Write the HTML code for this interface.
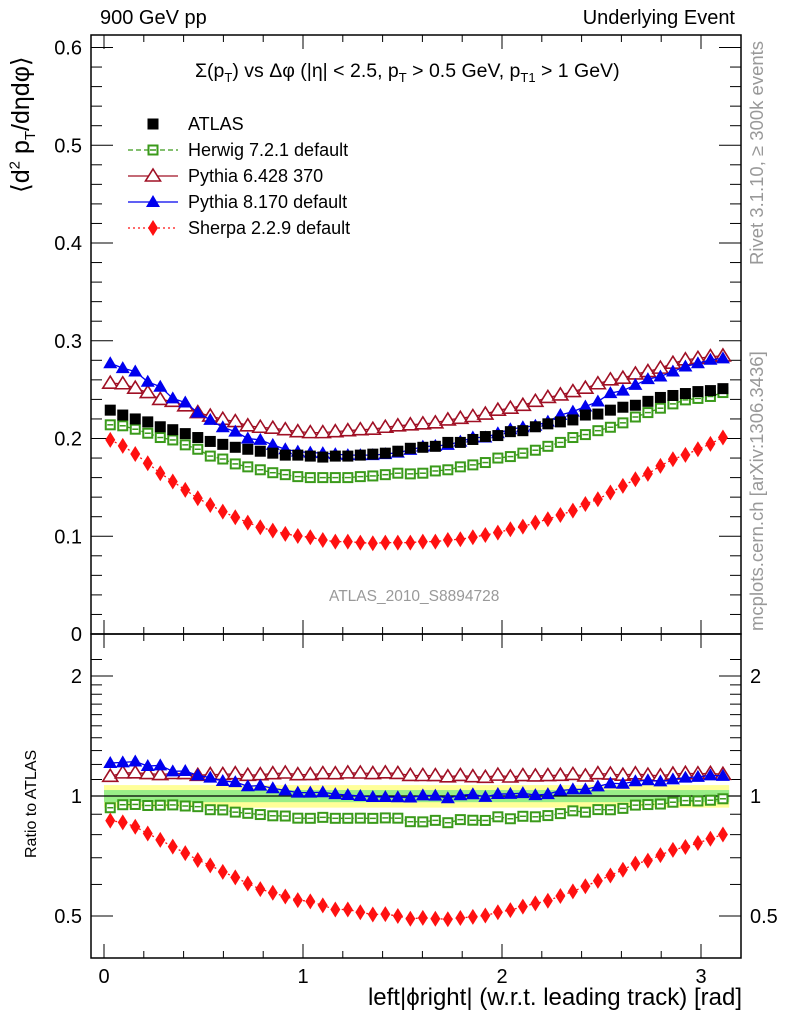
<!DOCTYPE html>
<html><head><meta charset="utf-8"><style>
body{margin:0;background:#fff;}
svg{display:block;font-family:"Liberation Sans",sans-serif;}
</style></head><body>
<svg id="c" width="786" height="1024" viewBox="0 0 786 1024"></svg>
<script>
const N = 50;
const atlas = [0.229,0.224,0.220,0.217,0.212,0.209,0.205,0.201,0.197,0.194,0.191,0.189,0.187,0.185,0.183,0.183,0.182,0.181,0.182,0.182,0.183,0.184,0.185,0.187,
0.190,0.191,0.192,0.196,0.196,0.199,0.202,0.203,0.207,0.208,0.212,0.215,0.217,0.219,0.224,0.225,0.229,0.232,0.234,0.238,0.242,0.244,0.246,0.248,0.249,0.251];
const herwig = [0.214,0.213,0.2095,0.2054,0.201,0.1985,0.1935,0.189,0.182,0.179,0.174,0.171,0.168,0.165,0.163,0.161,0.160,0.160,0.160,0.160,0.161,0.1617,0.163,0.1645,
0.1638,0.1645,0.1668,0.168,0.171,0.173,0.1754,0.180,0.1815,0.185,0.188,0.192,0.196,0.201,0.204,0.208,0.2115,0.216,0.222,0.2265,0.231,0.2354,0.2395,0.241,0.243,0.247];
const pythia6 = [0.2566,0.256,0.2515,0.247,0.240,0.238,0.2334,0.2265,0.223,0.2197,0.2173,0.213,0.2115,0.2105,0.209,0.207,0.206,0.206,0.207,0.208,0.209,0.2095,0.2115,0.213,
0.214,0.215,0.216,0.219,0.2207,0.2225,0.225,0.229,0.231,0.234,0.238,0.242,0.2446,0.248,0.2515,0.256,0.260,0.2617,0.266,0.2685,0.272,0.277,0.2805,0.282,0.2838,0.2845];
const pythia8 = [0.277,0.272,0.2685,0.258,0.253,0.241,0.2368,0.2265,0.219,0.2115,0.207,0.200,0.1986,0.1935,0.189,0.1866,0.1856,0.185,0.184,0.183,0.183,0.183,0.184,0.1856,
0.1883,0.1917,0.1924,0.1935,0.1968,0.201,0.201,0.2054,0.2095,0.2115,0.213,0.2173,0.224,0.2275,0.2327,0.2378,0.2464,0.249,0.2548,0.2607,0.2634,0.2685,0.2736,0.277,0.2805,0.282];
const sherpa = [0.1986,0.1924,0.1842,0.1747,0.1645,0.156,0.1474,0.1389,0.132,0.1252,0.1194,0.114,0.1092,0.1058,0.1024,0.1003,0.099,0.0962,0.0945,0.0945,0.0935,0.0928,0.0935,0.0935,
0.0935,0.0945,0.0945,0.0962,0.0969,0.099,0.1013,0.1037,0.1071,0.1098,0.114,0.1174,0.1218,0.1262,0.133,0.1378,0.1447,0.1515,0.1583,0.1638,0.172,0.1788,0.1832,0.189,0.1945,0.201];
const statErr = 0.035, totErr = 0.065;
const xTicks = [0,1,2,3];
const yTicks = [0,0.1,0.2,0.3,0.4,0.5,0.6];
const rTicks = [0.5,1,2];

const svg = document.getElementById('c');
const NS = 'http://www.w3.org/2000/svg';
function el(tag, attrs, parent){const e=document.createElementNS(NS,tag);for(const k in attrs)e.setAttribute(k,attrs[k]);(parent||svg).appendChild(e);return e;}
const L=91,R=741,T=35,MB=634,RB=958;
const X = v => 104 + v*199;
const Y = v => 634 - v*977.5;
const RY = r => 796 - 120*Math.log2(r);
const xc = i => (i+0.5)*Math.PI/N;

const band = el('g',{});


el('rect',{x:X(0),y:RY(1+totErr),width:X(Math.PI)-X(0),height:RY(1-totErr)-RY(1+totErr),fill:'#ffff99'},band);
el('rect',{x:X(0),y:RY(1+statErr),width:X(Math.PI)-X(0),height:RY(1-statErr)-RY(1+statErr),fill:'#99ee88'},band);
el('line',{x1:L,x2:R,y1:RY(1),y2:RY(1),stroke:'#000','stroke-width':1.2},band);

const f1=el('rect',{x:L,y:T,width:R-L,height:MB-T,fill:'none',stroke:'#000','stroke-width':1.5});


const f2=el('rect',{x:L,y:MB,width:R-L,height:RB-MB,fill:'none',stroke:'#000','stroke-width':1.5});



for(let v=0;v<=3.15;v+=0.2){
  const major = Math.abs(v-Math.round(v))<1e-6;
  const len = major?14:7;
  const x=X(v);
  el('line',{x1:x,x2:x,y1:MB,y2:MB-len,stroke:'#000'});
  el('line',{x1:x,x2:x,y1:T,y2:T+len,stroke:'#000'});
  el('line',{x1:x,x2:x,y1:RB,y2:RB-len,stroke:'#000'});
  el('line',{x1:x,x2:x,y1:MB,y2:MB+len,stroke:'#000'});
}
xTicks.forEach(v=>{
  const t=el('text',{x:X(v),y:983,'font-size':20,'text-anchor':'middle'});
  t.textContent=v;
  
  
});
for(let k=0;k<=30;k++){
  const v=k*0.02, y=Y(v), len = k%5==0?22:11;
  if(y<T) continue;
  el('line',{x1:L,x2:L+len,y1:y,y2:y,stroke:'#000'});
  el('line',{x1:R,x2:R-len,y1:y,y2:y,stroke:'#000'});
}
yTicks.forEach(v=>{
  const t=el('text',{x:82,y:Y(v)+7,'font-size':20,'text-anchor':'end'});
  t.textContent=v===0?'0':v.toFixed(1);
  
  
});
[0.5,0.6,0.7,0.8,0.9,1,1.1,1.2,1.3,1.4,1.5,1.6,1.7,1.8,1.9,2,2.2].forEach(v=>{
  const y=RY(v); if(y<MB||y>RB) return;
  const len=(v===0.5||v===1||v===2)?22:11;
  el('line',{x1:L,x2:L+len,y1:y,y2:y,stroke:'#000'});
  el('line',{x1:R,x2:R-len,y1:y,y2:y,stroke:'#000'});
});
rTicks.forEach(v=>{
  const t=el('text',{x:82,y:RY(v)+7,'font-size':20,'text-anchor':'end'});
  t.textContent=v;
  
  
  const t2=el('text',{x:750,y:RY(v)+7,'font-size':20,'text-anchor':'start'});
  t2.textContent=v;
  
  
});

function marker(g,type,x,y,color){
  const s=5.5;
  if(type==='sq') el('rect',{x:x-s,y:y-s,width:2*s,height:2*s,fill:color},g);
  else if(type==='osq'){el('rect',{x:x-s+1,y:y-s+1,width:2*s-2,height:2*s-2,fill:'#fff',stroke:color,'stroke-width':2},g);el('line',{x1:x-3,x2:x+3,y1:y,y2:y,stroke:color,'stroke-width':1.5},g);}
  else if(type==='otri') el('polygon',{points:`${x},${y-7} ${x+7.5},${y+5} ${x-7.5},${y+5}`,fill:'#fff',stroke:color,'stroke-width':1.6},g);
  else if(type==='tri') el('polygon',{points:`${x},${y-7} ${x+7},${y+5} ${x-7},${y+5}`,fill:color},g);
  else if(type==='dia') el('polygon',{points:`${x},${y-8} ${x+5},${y} ${x},${y+8} ${x-5},${y}`,fill:color},g);
}
const series=[
  {d:herwig,name:'herwig',type:'osq',color:'#3a9a1a',dash:'5,3'},
  {d:pythia6,name:'pythia6',type:'otri',color:'#a01025',dash:''},
  {d:pythia8,name:'pythia8',type:'tri',color:'#0000ee',dash:''},
  {d:sherpa,name:'sherpa',type:'dia',color:'#ff1010',dash:'2,3'},
];
function draw(vals,ymap,type,color,dash,name){
  const g=el('g',{});
  
  
  if(type!=='sq'){
    const pts=vals.map((v,i)=>X(xc(i))+','+ymap(v,i)).join(' ');
    const pl={points:pts,fill:'none',stroke:color,'stroke-width':1.3};
    if(dash) pl['stroke-dasharray']=dash;
    el('polyline',pl,g);
  }
  vals.forEach((v,i)=>marker(g,type,X(xc(i)),ymap(v,i),color));
}
series.forEach(s=>draw(s.d,v=>Y(v),s.type,s.color,s.dash,s.name+'-series'));
draw(atlas,v=>Y(v),'sq','#000','', 'atlas-data');
series.forEach(s=>draw(s.d,(v,i)=>RY(v/atlas[i]),s.type,s.color,s.dash,s.name+'-ratio'));

const leg=[['sq','#000','','ATLAS'],['osq','#3a9a1a','5,3','Herwig 7.2.1 default'],['otri','#a01025','','Pythia 6.428 370'],['tri','#0000ee','','Pythia 8.170 default'],['dia','#ff1010','2,3','Sherpa 2.2.9 default']];
leg.forEach((e,k)=>{
  const y=124+26*k;
  const g=el('g',{});
  
  
  if(k>0){const a={x1:128,x2:178,y1:y,y2:y,stroke:e[1],'stroke-width':1.3};if(e[2])a['stroke-dasharray']=e[2];el('line',a,g);}
  marker(g,e[0],153,y,e[1]);
  const t=el('text',{x:188,y:y+6,'font-size':18},g);t.textContent=e[3];
});
</script>
<div style="position:absolute;left:0;top:0;width:786px;height:1024px;pointer-events:none;font-family:'Liberation Sans',sans-serif;">
  <div style="position:absolute;left:100px;top:7px;font-size:20px;">900 GeV pp</div>
  <div style="position:absolute;right:51px;top:7px;font-size:20px;">Underlying Event</div>
  <div style="position:absolute;left:195px;top:60px;font-size:19.5px;white-space:nowrap;">Σ(p<sub style="font-size:13px">T</sub>) vs Δφ (|η| &lt; 2.5, p<sub style="font-size:13px">T</sub> &gt; 0.5 GeV, p<sub style="font-size:13px">T1</sub> &gt; 1 GeV)</div>
  <div style="position:absolute;left:329px;top:588px;font-size:15.5px;color:#999;">ATLAS_2010_S8894728</div>
  <div style="position:absolute;left:6px;top:193px;width:0;height:0;"><div style="position:absolute;transform:rotate(-90deg);transform-origin:left top;left:0;top:0;white-space:nowrap;font-size:25px;">⟨d<sup style="font-size:15px">2</sup> p<sub style="font-size:15px">T</sub>/dηdφ⟩</div></div>
  <div style="position:absolute;left:23px;top:858px;width:0;height:0;"><div style="position:absolute;transform:rotate(-90deg);transform-origin:left top;white-space:nowrap;font-size:16px;">Ratio to ATLAS</div></div>
  <div style="position:absolute;left:746px;top:265px;width:0;height:0;"><div style="position:absolute;transform:rotate(-90deg);transform-origin:left top;white-space:nowrap;font-size:18.5px;color:#999;">Rivet 3.1.10, ≥ 300k events</div></div>
  <div style="position:absolute;left:746px;top:631px;width:0;height:0;"><div style="position:absolute;transform:rotate(-90deg);transform-origin:left top;white-space:nowrap;font-size:18.5px;color:#999;">mcplots.cern.ch [arXiv:1306.3436]</div></div>
  <div style="position:absolute;right:44px;top:984px;font-size:24px;white-space:nowrap;">left|ϕright| (w.r.t. leading track) [rad]</div>
</div>
</body></html>
